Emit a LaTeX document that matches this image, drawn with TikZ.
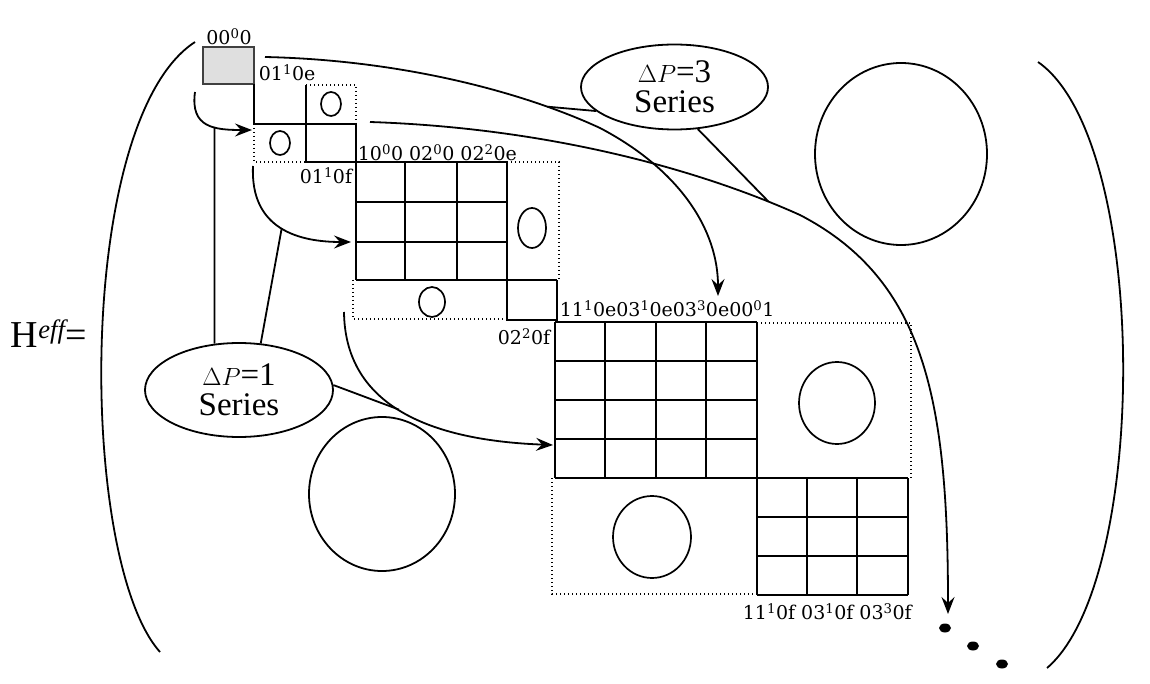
\documentclass[tikz,border=0pt]{standalone}
\usepackage{fontspec}
\newfontfamily\lblfont{DejaVu Serif}
\newfontfamily\txtfont{Liberation Serif}
\usetikzlibrary{shapes.geometric,arrows.meta}
\begin{document}
\begin{tikzpicture}[x=1pt,y=-1pt,line width=1.8pt,
  dotline/.style={line width=1.5pt,dash pattern=on 1.4pt off 2.6pt},
  arr/.style={-{Stealth[length=17pt,width=13pt,inset=6pt]}},
  lbl/.style={font=\lblfont\fontsize{19}{19}\selectfont,inner sep=0pt},
  series/.style={draw,ellipse,line width=1.8pt,align=center,inner sep=0pt,
    font=\txtfont\fontsize{33}{30}\selectfont},
  oval/.style={line width=1.7pt}]
\useasboundingbox (0,0) rectangle (1150,684);
\fill[white] (0,0) rectangle (1150,684);

% H^eff =
\node[font=\txtfont\fontsize{38}{38}\selectfont,anchor=west,inner sep=0pt] (H) at (10,334) {H\textsuperscript{\itshape eff}=};

% parentheses
\draw (195,42) .. controls (75,120) and (78,560) .. (160,652);
\draw (1038,62) .. controls (1150,140) and (1150,580) .. (1047,668);

% block 0 (gray)
\fill[gray!25] (203,47) rectangle (254,84);
\draw[line width=1.4pt,black!75] (203,47) rectangle (254,84);
\node[lbl] (l00) at (229,37) {00\textsuperscript{0}0};

% block 1
\draw (254,84) -- (254,124) -- (356,124);
\draw (306,85) -- (306,162) -- (356,162) -- (356,124);
\draw[dotline] (306,85) -- (356,85) -- (356,124);
\draw[dotline] (254,124) -- (254,162) -- (306,162);
\draw[oval] (331,104) ellipse [x radius=10,y radius=12];
\draw[oval] (280,143) ellipse [x radius=10,y radius=12];
\node[lbl,anchor=west] (l01e) at (258,73) {01\textsuperscript{1}0e};
\node[lbl,anchor=east] (l01f) at (353,176) {01\textsuperscript{1}0f};

% block 2
\foreach \y in {162,202,242} \draw (356,\y) -- (507,\y);
\draw (356,280) -- (557,280);
\foreach \x in {356,405,457} \draw (\x,162) -- (\x,280);
\draw (507,162) -- (507,320) -- (557,320) -- (557,280);
\draw[dotline] (507,162) -- (559,162) -- (559,280);
\draw[dotline] (353,280) -- (353,319) -- (507,319);
\draw[oval] (532,228) ellipse [x radius=14,y radius=20];
\draw[oval] (432,302) ellipse [x radius=13,y radius=15];
\node[lbl,anchor=west] (l10) at (357,153) {10\textsuperscript{0}0 02\textsuperscript{0}0 02\textsuperscript{2}0e};
\node[lbl,anchor=west] (l02f) at (497,337) {02\textsuperscript{2}0f};

% block 3
\foreach \y in {322,361,400,439} \draw (555,\y) -- (757,\y);
\draw (555,478) -- (908,478);
\foreach \x in {555,605,656,706} \draw (\x,322) -- (\x,478);
\draw (757,322) -- (757,595);
\foreach \y in {517,556,595} \draw (757,\y) -- (908,\y);
\foreach \x in {807,857,908} \draw (\x,478) -- (\x,595);
\draw[dotline] (757,323) -- (911,323) -- (911,478);
\draw[dotline] (552,478) -- (552,594) -- (757,594);
\draw[oval] (837,403) ellipse [x radius=38,y radius=41];
\draw[oval] (652,537) ellipse [x radius=39,y radius=41];
\node[lbl,anchor=west] (l11e) at (559,309) {11\textsuperscript{1}0e03\textsuperscript{1}0e03\textsuperscript{3}0e00\textsuperscript{0}1};
\node[lbl,anchor=west] (l11f) at (742,612) {11\textsuperscript{1}0f 03\textsuperscript{1}0f 03\textsuperscript{3}0f};

% big circles
\draw (901,154) ellipse [x radius=86,y radius=91];
\draw (382,494) ellipse [x radius=73,y radius=77];

% series ellipses
\node[series,minimum width=188pt,minimum height=94pt] (p1) at (239,390) {$\Delta P$=1\\Series};
\node[series,minimum width=187pt,minimum height=85pt] (p3) at (674.5,87) {$\Delta P$=3\\Series};

% connectors (arrows)
\coordinate (d0) at (195,92);
\coordinate (d1) at (252,130);
\draw[arr] (d0) .. controls (190,128) and (215,130) .. coordinate[pos=0.6] (dm) (d1);
\coordinate (e0) at (253,166);
\coordinate (e1) at (351,242);
\draw[arr] (e0) .. controls (250,230) and (300,242) .. coordinate[pos=0.5] (em) (e1);
\coordinate (f0) at (344,312);
\coordinate (f1) at (553,445);
\draw[arr] (f0) .. controls (345,400) and (420,440) .. coordinate[pos=0.5] (fm) (f1);
\coordinate (a0) at (265,57);
\coordinate (a1) at (600,128);
\coordinate (a2) at (718,296);
\draw[arr] (a0) .. controls (400,60) and (520,91) .. coordinate[pos=0.8] (am) (a1)
  .. controls (680,170) and (718,230) .. (a2);
\coordinate (c0) at (370,122);
\coordinate (c1) at (800,215);
\coordinate (c2) at (948,614);
\draw[arr] (c0) .. controls (550,128) and (700,170) .. coordinate[pos=0.9] (cm) (c1)
  .. controls (925,280) and (948,400) .. (c2);

% pointer lines from the series ellipses
\draw (p1.118) -- (dm);
\draw (p1.65) -- (em);
\draw (p1.3) -- (fm);
\draw (p3.197) -- (am);
\draw (p3.299) -- (cm);

% dots
\fill (945,628) ellipse [x radius=6,y radius=4.5];
\fill (973,646) ellipse [x radius=6,y radius=4.5];
\fill (1002,664) ellipse [x radius=6,y radius=4.5];
\end{tikzpicture}
\end{document}
